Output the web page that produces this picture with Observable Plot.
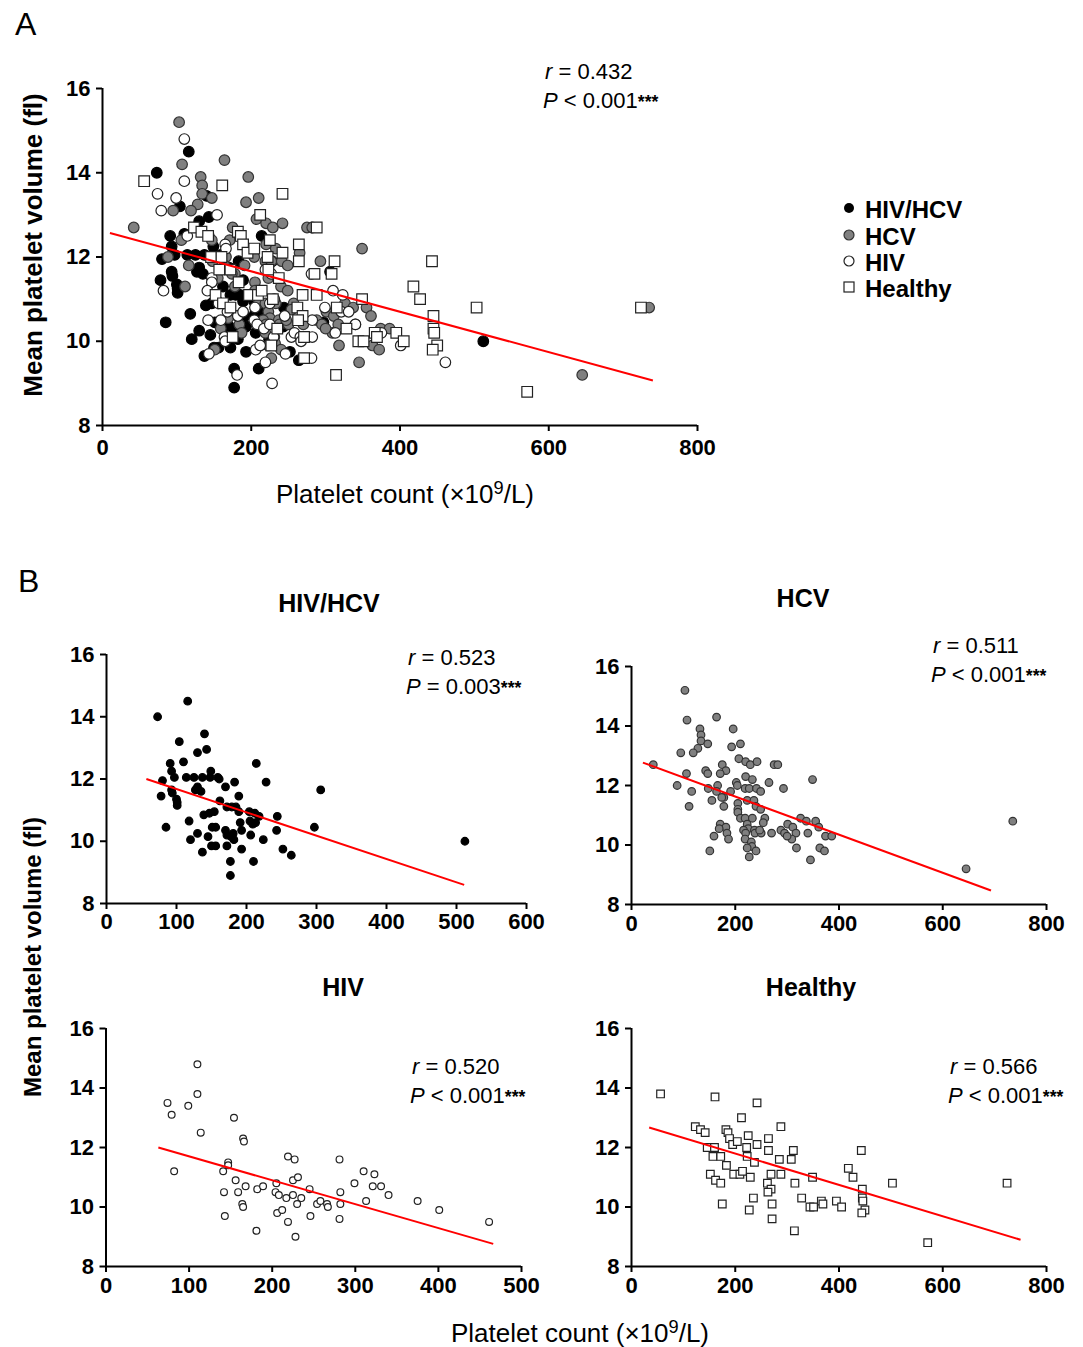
<!DOCTYPE html>
<html><head><meta charset="utf-8">
<script src="https://cdn.jsdelivr.net/npm/d3@7"></script>
<script src="https://cdn.jsdelivr.net/npm/@observablehq/plot@0.6"></script>
<style>
body{margin:0;background:#fff;font-family:"Liberation Sans",Arial,sans-serif;color:#000}
#fig{position:relative;width:1083px;height:1347px;overflow:hidden;background:#fff}
.abs{position:absolute;white-space:nowrap;line-height:1}
.ast{font-size:0.8em;font-weight:bold}
</style></head><body><div id="fig"></div><script>
// ---------- data ----------
const groups = ["HIV/HCV", "HCV", "HIV", "Healthy"];
const hivHcvPts = [[116,14.5],[73,14.0],[140,13.45],[104,13.2],[130,12.85],[143,12.95],[110,12.55],[91,12.5],[93,12.25],[97,12.05],[114,12.05],[125,12.05],[137,12.05],[149,12.25],[148,12.05],[159,12.05],[161,12.0],[80,11.95],[183,11.9],[214,12.5],[228,11.9],[306,11.65],[130,11.75],[127,11.65],[135,11.6],[93,11.65],[94,11.55],[78,11.45],[100,11.35],[101,11.25],[101,11.15],[170,11.75],[189,11.45],[162,11.3],[172,11.1],[179,11.1],[185,11.1],[189,10.95],[204,10.95],[212,10.9],[218,10.8],[205,10.65],[213,10.6],[209,10.55],[244,10.8],[243,10.35],[297,10.45],[154,10.95],[147,10.9],[139,10.85],[118,10.65],[85,10.45],[151,10.45],[156,10.45],[170,10.35],[191,10.6],[193,10.35],[145,10.15],[130,10.25],[120,10.05],[172,10.2],[178,10.15],[181,10.25],[182,10.05],[206,10.2],[224,10.05],[150,9.85],[156,9.85],[172,9.85],[193,9.75],[137,9.65],[252,9.75],[264,9.55],[177,9.35],[210,9.35],[177,8.9],[512,10.0]];
const hcvPts = [[103,15.2],[107,14.2],[164,14.3],[196,13.9],[132,13.9],[134,13.7],[134,13.5],[147,13.4],[128,13.25],[119,13.1],[95,13.1],[210,13.4],[193,13.3],[42,12.7],[106,12.4],[143,12.5],[147,12.4],[175,12.7],[182,12.5],[171,12.4],[207,12.9],[220,12.8],[229,12.7],[242,12.8],[275,12.7],[282,12.7],[349,12.2],[88,12.0],[116,11.8],[111,11.3],[148,11.9],[166,12.0],[155,11.5],[164,11.8],[191,11.8],[202,12.1],[204,12.0],[220,12.3],[233,12.2],[219,11.9],[227,11.9],[241,11.9],[249,11.8],[265,12.1],[293,11.9],[178,11.6],[174,11.6],[178,11.3],[205,11.4],[205,11.2],[223,11.5],[236,11.5],[240,11.3],[249,11.2],[205,11.1],[210,10.9],[219,10.9],[233,10.9],[257,10.9],[254,10.75],[223,10.7],[225,10.55],[237,10.5],[216,10.5],[220,10.4],[238,10.4],[250,10.4],[247,10.5],[171,10.7],[182,10.6],[169,10.55],[184,10.4],[187,10.2],[159,10.3],[219,10.2],[151,9.8],[231,10.1],[232,9.95],[223,9.9],[240,9.8],[227,9.6],[270,10.4],[288,10.5],[295,10.4],[301,10.7],[311,10.6],[317,10.4],[309,10.2],[300,10.3],[326,10.9],[337,10.8],[355,10.8],[361,10.6],[340,10.4],[318,9.9],[374,10.3],[386,10.3],[363,9.9],[372,9.8],[345,9.5],[735,10.8],[645,9.2]];
const hivPts = [[110,14.8],[110,13.8],[74,13.5],[79,13.1],[99,13.4],[154,13.0],[114,12.5],[165,12.3],[166,12.2],[82,11.2],[147,11.5],[147,11.4],[141,11.2],[156,10.9],[168,10.7],[159,10.5],[142,10.5],[164,10.1],[165,10.0],[143,9.7],[181,9.2],[182,10.6],[189,10.7],[205,10.8],[204,10.5],[208,10.4],[217,10.3],[225,10.4],[219,11.7],[227,11.6],[225,10.9],[231,11.0],[245,10.6],[235,10.3],[230,10.1],[206,9.8],[212,9.9],[219,9.5],[228,9.0],[246,9.7],[254,10.1],[258,10.2],[266,10.1],[267,10.0],[281,11.6],[310,11.2],[323,11.1],[321,10.7],[331,10.7],[299,10.8],[340,10.4],[282,10.5],[282,10.1],[313,10.2],[281,9.6],[375,10.2],[401,9.9],[461,9.5]];
const healthyPts = [[56,13.8],[161,13.7],[242,13.5],[212,13.0],[288,12.7],[123,12.7],[133,12.6],[142,12.5],[182,12.6],[186,12.5],[189,12.3],[195,12.1],[204,12.2],[225,12.4],[242,12.1],[264,12.3],[264,11.9],[312,11.9],[146,12.0],[160,12.0],[157,11.7],[172,11.7],[222,12.0],[223,11.7],[237,11.5],[285,11.6],[308,11.6],[183,11.4],[152,11.1],[162,10.9],[172,10.8],[197,11.1],[209,11.1],[214,11.2],[229,11.0],[269,11.1],[288,11.1],[262,10.8],[269,10.6],[263,10.5],[315,10.8],[349,11.0],[328,10.3],[235,10.3],[175,10.1],[227,9.9],[271,10.1],[271,9.6],[314,9.2],[344,10.0],[351,10.0],[366,10.2],[369,10.1],[395,10.2],[405,10.0],[418,11.3],[443,11.9],[427,11.0],[445,10.6],[503,10.8],[724,10.8],[445,10.3],[446,10.2],[450,9.9],[444,9.8],[571,8.8]];
// fitted regression lines as drawn: [x start, y start, x end, y end]
const fitAll = [10, 12.57, 740, 9.07];
const fitHivHcv = [57, 12.0, 511, 8.6];
const fitHcv = [22, 12.77, 693, 8.47];
const fitHiv = [63, 12.0, 466, 8.76];
const fitHealthy = [34, 12.67, 750, 8.9];
const statR = ["0.432", "0.523", "0.511", "0.520", "0.566"];
const statP = ["< 0.001", "= 0.003", "< 0.001", "< 0.001", "< 0.001"];
const yTicks = [8, 10, 12, 14, 16];
const xTicks800 = [0, 200, 400, 600, 800];
const xTicks600 = [0, 100, 200, 300, 400, 500, 600];
const xTicks500 = [0, 100, 200, 300, 400, 500];
const yTitle = "Mean platelet volume (fl)";
const xTitle = "Platelet count (×10<sup style='font-size:0.7em'>9</sup>/L)";

// ---------- rendering ----------
const fig = document.getElementById("fig");
const styles = [
  {symbol: "circle", fill: "#000", stroke: "#000"},
  {symbol: "circle", fill: "#808080", stroke: "#333"},
  {symbol: "circle", fill: "#fff", stroke: "#222"},
  {symbol: "square", fill: "#fff", stroke: "#222"}
];

function panel({left, top, width, height, ml, mr, mt, mb, xMax, xTicks, sets, rc, rs, fit, pad}) {
  const marks = [];
  sets.forEach(([pts, gi]) => {
    const s = styles[gi];
    marks.push(Plot.dot(pts, {x: d => d[0], y: d => d[1], symbol: s.symbol,
      r: s.symbol === "square" ? rs : rc, fill: s.fill, stroke: s.stroke, strokeWidth: 1.2}));
  });
  marks.push(Plot.link([fit], {x1: d => d[0], y1: d => d[1], x2: d => d[2], y2: d => d[3], stroke: "#ff0000", strokeWidth: 2}));
  marks.push(Plot.ruleX([0], {stroke: "#000", strokeWidth: 2}));
  marks.push(Plot.ruleY([8], {stroke: "#000", strokeWidth: 2}));
  marks.push(Plot.axisX({ticks: xTicks, tickSize: 6, tickPadding: pad, fontSize: 22, fontWeight: "bold", strokeWidth: 2, label: null}));
  marks.push(Plot.axisY({ticks: yTicks, tickSize: 6, tickPadding: 6, fontSize: 22, fontWeight: "bold", strokeWidth: 2, label: null}));
  const svg = Plot.plot({
    width, height, marginLeft: ml, marginRight: mr, marginTop: mt, marginBottom: mb,
    x: {domain: [0, xMax]}, y: {domain: [8, 16]},
    style: {background: "transparent", fontFamily: "'Liberation Sans', Arial, sans-serif", color: "#000", overflow: "visible"},
    marks
  });
  const wrap = document.createElement("div");
  wrap.style.cssText = `position:absolute;left:${left}px;top:${top}px;width:${width}px;height:${height}px`;
  wrap.appendChild(svg);
  fig.appendChild(wrap);
}

function txt(html, x, y, {size = 22, weight = "normal", anchor = "middle", rotate = 0} = {}) {
  const d = document.createElement("div");
  d.className = "abs";
  d.innerHTML = html;
  d.style.left = x + "px"; d.style.top = y + "px";
  d.style.fontSize = size + "px"; d.style.fontWeight = weight;
  const tx = anchor === "middle" ? "-50%" : anchor === "end" ? "-100%" : "0";
  d.style.transform = `translate(${tx},-50%)` + (rotate ? ` rotate(${rotate}deg)` : "");
  fig.appendChild(d);
}
function stat(i, x, y) {
  txt(`<i>r</i> = ${statR[i]}`, x + 2, y, {anchor: "start"});
  txt(`<i>P</i> ${statP[i]}<span class="ast">***</span>`, x, y + 29, {anchor: "start"});
}

// Panel A
panel({left: 0, top: 0, width: 720, height: 470, ml: 102, mr: 23, mt: 88, mb: 45, xMax: 800, xTicks: xTicks800,
  sets: [[hivHcvPts, 0], [hcvPts, 1], [hivPts, 2], [healthyPts, 3]], rc: 5.3, rs: 6, fit: fitAll, pad: 8});
txt("A", 15, 24, {size: 32, anchor: "start"});
stat(0, 543, 72);
txt(yTitle, 33, 245, {size: 26, weight: "bold", rotate: -90});
txt(xTitle, 405, 493, {size: 26});
// legend
const legSym = [
  `<svg width="14" height="14"><circle cx="7" cy="7" r="5" fill="#000"/></svg>`,
  `<svg width="14" height="14"><circle cx="7" cy="7" r="5" fill="#808080" stroke="#333" stroke-width="1.2"/></svg>`,
  `<svg width="14" height="14"><circle cx="7" cy="7" r="5" fill="#fff" stroke="#222" stroke-width="1.2"/></svg>`,
  `<svg width="14" height="14"><rect x="2" y="2" width="10" height="10" fill="#fff" stroke="#222" stroke-width="1.2"/></svg>`
];
const legY = [209, 236, 262, 288];
groups.forEach((g, i) => {
  txt(legSym[i], 849, legY[i], {size: 14});
  txt(g, 865, legY[i] + 1, {size: 24, weight: "bold", anchor: "start"});
});

// Panel B
txt("B", 18, 581, {size: 32, anchor: "start"});
panel({left: 0, top: 620, width: 560, height: 320, ml: 106, mr: 34, mt: 34, mb: 37, xMax: 600, xTicks: xTicks600,
  sets: [[hivHcvPts, 0]], rc: 3.8, rs: 4.2, fit: fitHivHcv, pad: 4});
txt(groups[0], 329, 603, {size: 25, weight: "bold"});
stat(1, 406, 658);

panel({left: 560, top: 620, width: 523, height: 320, ml: 71, mr: 37, mt: 46, mb: 36, xMax: 800, xTicks: xTicks800,
  sets: [[hcvPts, 1]], rc: 3.8, rs: 4.2, fit: fitHcv, pad: 5});
txt(groups[1], 803, 598, {size: 25, weight: "bold"});
stat(2, 931, 646);

panel({left: 0, top: 1000, width: 560, height: 300, ml: 105.5, mr: 39, mt: 28, mb: 34, xMax: 500, xTicks: xTicks500,
  sets: [[hivPts, 2]], rc: 3.4, rs: 4.2, fit: fitHiv, pad: 5});
txt(groups[2], 343, 987, {size: 25, weight: "bold"});
stat(3, 410, 1067);

panel({left: 560, top: 1000, width: 523, height: 300, ml: 71, mr: 37, mt: 28, mb: 34, xMax: 800, xTicks: xTicks800,
  sets: [[healthyPts, 3]], rc: 3.4, rs: 4.3, fit: fitHealthy, pad: 5});
txt(groups[3], 811, 987, {size: 25, weight: "bold"});
stat(4, 948, 1067);

txt(yTitle, 33, 957, {size: 24, weight: "bold", rotate: -90});
txt(xTitle, 580, 1332, {size: 26});
</script></body></html>
